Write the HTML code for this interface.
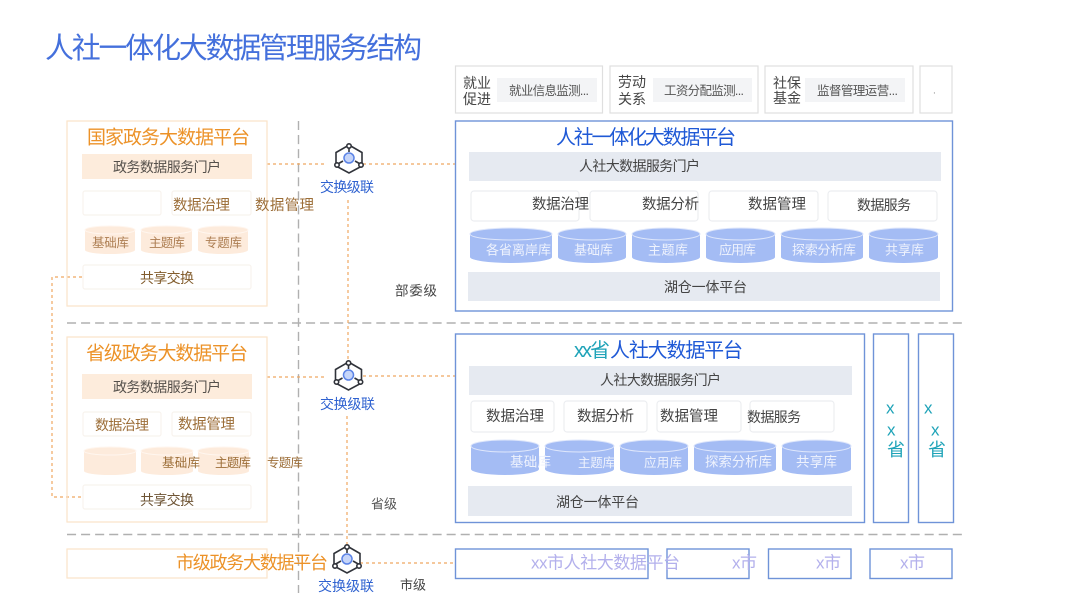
<!DOCTYPE html>
<html lang="zh"><head><meta charset="utf-8"><title>人社一体化大数据管理服务结构</title>
<style>
html,body{margin:0;padding:0;background:#fff;width:1080px;height:608px;overflow:hidden}
svg{display:block;filter:blur(.35px)}
text{font-family:"Liberation Sans","Noto Sans CJK SC",sans-serif;dominant-baseline:central;transform:translateY(1px)}
.o{fill:none;stroke:#fbe3c8;stroke-width:1.2}
.ob{fill:#fff;stroke:#f8f3ee;stroke-width:1.2}
.oband{fill:#fdecdc}
.oc{fill:#fdebdc}
.ot{fill:none;stroke:#fff6ef;stroke-width:1}
.b{fill:none;stroke:#6f93d8;stroke-width:1.4}
.bb{fill:#fff;stroke:#eceef1;stroke-width:1.2}
.g{fill:#e6eaf1}
.c{fill:#a4bcf4}
.ct{fill:#a4bcf4;stroke:#dfe7fb;stroke-width:1}
.tb{fill:#fff;stroke:#dfdfdf;stroke-width:1.2}
.gb{fill:#f3f4f6}
.dash{stroke:#b0b0b0;stroke-width:1.4;stroke-dasharray:9.06 5;fill:none}
.od{stroke:#efa862;stroke-width:1.2;stroke-dasharray:3 3;fill:none}
.ic{fill:none;stroke:#30333a;stroke-width:1.6}
.icd{fill:#fff;stroke:#30333a;stroke-width:1.6}
.icc{fill:#c6d5f9;stroke:#5b83e6;stroke-width:1.5}
</style></head><body>
<svg width="1080" height="608" viewBox="0 0 1080 608" xmlns="http://www.w3.org/2000/svg">
<text x="45" y="48" font-size="29" fill="#4470dc" textLength="377">人社一体化大数据管理服务结构</text>

<!-- dividers -->
<path class="dash" d="M67 323H962M67 534.500H962M298.500 121V593"/>

<!-- connectors -->
<path class="od" d="M267 164H327M363 164H455M348 200V360M267 377H327M363 376H455M347 416V545M360 563H455M82 277H52V497H82"/>

<!-- national -->
<rect class="o" x="67" y="121" width="200" height="185"/>
<text x="87" y="137" font-size="19" fill="#ec9228" textLength="163">国家政务大数据平台</text>
<rect class="oband" x="82" y="154" width="170" height="25"/>
<text x="113" y="166" font-size="14" fill="#55504b" textLength="108">政务数据服务门户</text>
<rect class="ob" x="83" y="191" width="78" height="24" rx="2"/>
<rect class="ob" x="172" y="191" width="79" height="24" rx="2"/>
<text x="173" y="205" font-size="14.500" fill="#9c6e38" textLength="57">数据治理</text>
<text x="255" y="205" font-size="14.500" fill="#9c6e38" textLength="59">数据管理</text>
<path class="oc" d="M85 230A25 4 0 0 1 135 230V250A25 4 0 0 1 85 250Z"/><ellipse class="ot" cx="110" cy="230" rx="25" ry="4"/>
<path class="oc" d="M141 230A25.500 4 0 0 1 192 230V250A25.500 4 0 0 1 141 250Z"/><ellipse class="ot" cx="166.500" cy="230" rx="25.500" ry="4"/>
<path class="oc" d="M198 230A25 4 0 0 1 248 230V250A25 4 0 0 1 198 250Z"/><ellipse class="ot" cx="223" cy="230" rx="25" ry="4"/>
<text x="92" y="242" font-size="12.500" fill="#ad7e52" textLength="37">基础库</text>
<text x="149" y="242" font-size="12.500" fill="#ad7e52" textLength="36">主题库</text>
<text x="205" y="242" font-size="12.500" fill="#ad7e52" textLength="37">专题库</text>
<rect class="ob" x="83" y="265" width="168" height="24" rx="2"/>
<text x="140" y="277" font-size="14" fill="#825c2c" textLength="54">共享交换</text>

<!-- province left -->
<rect class="o" x="67" y="337" width="200" height="185"/>
<text x="86" y="353" font-size="19" fill="#ec9228" textLength="162">省级政务大数据平台</text>
<rect class="oband" x="82" y="374" width="170" height="25"/>
<text x="113" y="386" font-size="14" fill="#55504b" textLength="108">政务数据服务门户</text>
<rect class="ob" x="83" y="412" width="78" height="24" rx="2"/>
<rect class="ob" x="172" y="412" width="79" height="24" rx="2"/>
<text x="95" y="424" font-size="14" fill="#9c6e38" textLength="54">数据治理</text>
<text x="178" y="424" font-size="14.500" fill="#9c6e38" textLength="57">数据管理</text>
<path class="oc" d="M84 451A26 4 0 0 1 136 451V471A26 4 0 0 1 84 471Z"/><ellipse class="ot" cx="110" cy="451" rx="26" ry="4"/>
<path class="oc" d="M141 451A26 4 0 0 1 193 451V471A26 4 0 0 1 141 471Z"/><ellipse class="ot" cx="167" cy="451" rx="26" ry="4"/>
<path class="oc" d="M198 451A25.500 4 0 0 1 249 451V471A25.500 4 0 0 1 198 471Z"/><ellipse class="ot" cx="223.500" cy="451" rx="25.500" ry="4"/>
<text x="162" y="462" font-size="12.500" fill="#9c6e38" textLength="38">基础库</text>
<text x="215" y="462" font-size="12.500" fill="#9c6e38" textLength="36">主题库</text>
<text x="267" y="462" font-size="12.500" fill="#9c6e38" textLength="36">专题库</text>
<rect class="ob" x="83" y="485" width="168" height="24" rx="2"/>
<text x="140" y="499" font-size="14" fill="#6e5434" textLength="54">共享交换</text>

<!-- city left -->
<rect class="o" x="67" y="549" width="200" height="29"/>
<text x="176" y="562" font-size="18" fill="#ec9228" textLength="152">市级政务大数据平台</text>

<!-- icons -->
<g>
<path class="ic" d="M349 145L362 152.500V166L349 173L336 166V152.500Z"/>
<path class="ic" d="M349 145V152M336 165L343 161M362 165L355 161"/>
<circle class="icc" cx="349" cy="158" r="5"/>
<circle class="icd" cx="349" cy="146" r="2.200"/><circle class="icd" cx="337" cy="165" r="2.200"/><circle class="icd" cx="361" cy="165" r="2.200"/>
</g>
<g>
<path class="ic" d="M348.500 362L361.500 369.500V383L348.500 390L335.500 383V369.500Z"/>
<path class="ic" d="M348.500 362V369M335.500 382L342.500 378M361.500 382L354.500 378"/>
<circle class="icc" cx="348.500" cy="375" r="5"/>
<circle class="icd" cx="348.500" cy="363" r="2.200"/><circle class="icd" cx="336.500" cy="382" r="2.200"/><circle class="icd" cx="360.500" cy="382" r="2.200"/>
</g>
<g>
<path class="ic" d="M347 546L360 553.500V566L347 573L334 566V553.500Z"/>
<path class="ic" d="M347 546V553M334 565L341 561M360 565L353 561"/>
<circle class="icc" cx="347" cy="559" r="5"/>
<circle class="icd" cx="347" cy="547" r="2.200"/><circle class="icd" cx="335" cy="566" r="2.200"/><circle class="icd" cx="359" cy="566" r="2.200"/>
</g>
<text x="320" y="186" font-size="14" fill="#2f62d0" textLength="54">交换级联</text>
<text x="320" y="403" font-size="14" fill="#2f62d0" textLength="55">交换级联</text>
<text x="318" y="585" font-size="14" fill="#2f62d0" textLength="56">交换级联</text>
<text x="395" y="290" font-size="13.500" fill="#444" textLength="42">部委级</text>
<text x="371" y="503" font-size="13" fill="#555" textLength="26">省级</text>
<text x="400" y="584" font-size="13" fill="#444" textLength="26">市级</text>

<!-- top row -->
<rect class="tb" x="455.500" y="66" width="147" height="47"/>
<rect class="tb" x="610" y="66" width="148" height="47"/>
<rect class="tb" x="765" y="66" width="148" height="47"/>
<rect class="tb" x="920" y="66" width="32" height="47"/>
<rect class="gb" x="497" y="78" width="100" height="24"/>
<rect class="gb" x="653" y="78" width="99" height="24"/>
<rect class="gb" x="805" y="78" width="100" height="24"/>
<text x="463" y="82" font-size="14" fill="#444" textLength="28">就业</text>
<text x="463" y="98" font-size="14" fill="#444" textLength="28">促进</text>
<text x="618" y="81" font-size="14" fill="#444" textLength="28">劳动</text>
<text x="618" y="98" font-size="14" fill="#444" textLength="28">关系</text>
<text x="773" y="82" font-size="14" fill="#444" textLength="28">社保</text>
<text x="773" y="97" font-size="14" fill="#444" textLength="28">基金</text>
<text x="509" y="90" font-size="12.500" fill="#555" textLength="80">就业信息监测...</text>
<text x="664" y="90" font-size="12.500" fill="#555" textLength="80">工资分配监测...</text>
<text x="817" y="90" font-size="12.500" fill="#555" textLength="81">监督管理运营...</text>
<text x="933" y="90" font-size="10" fill="#888">.</text>

<!-- national main -->
<rect class="b" x="455.500" y="121" width="497" height="190"/>
<text x="556" y="137" font-size="20" fill="#1f59d6" textLength="180">人社一体化大数据平台</text>
<rect class="g" x="469" y="152" width="472" height="29"/>
<text x="579" y="165" font-size="14" fill="#444" textLength="121">人社大数据服务门户</text>
<rect class="bb" x="471" y="191" width="108" height="30" rx="3"/>
<rect class="bb" x="590" y="191" width="108" height="30" rx="3"/>
<rect class="bb" x="709" y="191" width="109" height="30" rx="3"/>
<rect class="bb" x="828" y="191" width="109" height="30" rx="3"/>
<text x="532" y="204" font-size="14.500" fill="#444" textLength="57">数据治理</text>
<text x="642" y="204" font-size="14.500" fill="#444" textLength="57">数据分析</text>
<text x="748" y="204" font-size="14.500" fill="#444" textLength="58">数据管理</text>
<text x="857" y="204" font-size="14" fill="#444" textLength="54">数据服务</text>
<path class="c" d="M470 234A41 6 0 0 1 552 234V257A41 6 0 0 1 470 257Z"/><ellipse class="ct" cx="511" cy="234" rx="41" ry="6"/>
<path class="c" d="M558 234A34 6 0 0 1 626 234V257A34 6 0 0 1 558 257Z"/><ellipse class="ct" cx="592" cy="234" rx="34" ry="6"/>
<path class="c" d="M632 234A34 6 0 0 1 700 234V257A34 6 0 0 1 632 257Z"/><ellipse class="ct" cx="666" cy="234" rx="34" ry="6"/>
<path class="c" d="M706 234A34.500 6 0 0 1 775 234V257A34.500 6 0 0 1 706 257Z"/><ellipse class="ct" cx="740.500" cy="234" rx="34.500" ry="6"/>
<path class="c" d="M781 234A41 6 0 0 1 863 234V257A41 6 0 0 1 781 257Z"/><ellipse class="ct" cx="822" cy="234" rx="41" ry="6"/>
<path class="c" d="M869 234A34.500 6 0 0 1 938 234V257A34.500 6 0 0 1 869 257Z"/><ellipse class="ct" cx="903.500" cy="234" rx="34.500" ry="6"/>
<text x="486" y="249" font-size="13" fill="#eef2fd" textLength="65">各省离岸库</text>
<text x="574" y="249" font-size="13" fill="#eef2fd" textLength="39">基础库</text>
<text x="648" y="249" font-size="13" fill="#eef2fd" textLength="40">主题库</text>
<text x="719" y="249" font-size="13" fill="#eef2fd" textLength="37">应用库</text>
<text x="792" y="249" font-size="13" fill="#eef2fd" textLength="64">探索分析库</text>
<text x="885" y="249" font-size="13" fill="#eef2fd" textLength="39">共享库</text>
<rect class="g" x="468" y="272" width="472" height="29"/>
<text x="664" y="286" font-size="14" fill="#444" textLength="83">湖仓一体平台</text>

<!-- province main -->
<rect class="b" x="455.500" y="334" width="409" height="188.500"/>
<text x="574" y="350" font-size="20" fill="#1fa3b8" textLength="36">xx省</text>
<text x="610" y="350" font-size="20" fill="#1f59d6" textLength="133">人社大数据平台</text>
<rect class="g" x="469" y="366" width="383" height="29"/>
<text x="600" y="379" font-size="14" fill="#444" textLength="121">人社大数据服务门户</text>
<rect class="bb" x="471" y="401" width="83" height="31" rx="3"/>
<rect class="bb" x="564" y="401" width="83" height="31" rx="3"/>
<rect class="bb" x="657" y="401" width="84" height="31" rx="3"/>
<rect class="bb" x="750" y="401" width="84" height="31" rx="3"/>
<text x="486" y="416" font-size="14.500" fill="#444" textLength="58">数据治理</text>
<text x="577" y="416" font-size="14.500" fill="#444" textLength="57">数据分析</text>
<text x="660" y="416" font-size="14.500" fill="#444" textLength="58">数据管理</text>
<text x="747" y="416" font-size="14" fill="#444" textLength="54">数据服务</text>
<path class="c" d="M471 446A34 6 0 0 1 539 446V469A34 6 0 0 1 471 469Z"/><ellipse class="ct" cx="505" cy="446" rx="34" ry="6"/>
<path class="c" d="M545 446A34.500 6 0 0 1 614 446V469A34.500 6 0 0 1 545 469Z"/><ellipse class="ct" cx="579.500" cy="446" rx="34.500" ry="6"/>
<path class="c" d="M620 446A34 6 0 0 1 688 446V469A34 6 0 0 1 620 469Z"/><ellipse class="ct" cx="654" cy="446" rx="34" ry="6"/>
<path class="c" d="M694 446A41 6 0 0 1 776 446V469A41 6 0 0 1 694 469Z"/><ellipse class="ct" cx="735" cy="446" rx="41" ry="6"/>
<path class="c" d="M782 446A34.500 6 0 0 1 851 446V469A34.500 6 0 0 1 782 469Z"/><ellipse class="ct" cx="816.500" cy="446" rx="34.500" ry="6"/>
<text x="510" y="461" font-size="13.500" fill="#eef2fd" textLength="41">基础库</text>
<text x="578" y="462" font-size="12.500" fill="#eef2fd" textLength="37">主题库</text>
<text x="644" y="462" font-size="12.500" fill="#eef2fd" textLength="38">应用库</text>
<text x="705" y="461" font-size="13.500" fill="#eef2fd" textLength="67">探索分析库</text>
<text x="796" y="461" font-size="13.500" fill="#eef2fd" textLength="41">共享库</text>
<rect class="g" x="468" y="486" width="384" height="30"/>
<text x="556" y="501" font-size="14" fill="#444" textLength="83">湖仓一体平台</text>

<!-- side provinces -->
<rect class="b" x="873.500" y="334" width="35" height="188.500"/>
<rect class="b" x="918.500" y="334" width="35" height="188.500"/>
<text x="886" y="407" font-size="17" fill="#1fa3b8">x</text>
<text x="887" y="429" font-size="17" fill="#1fa3b8">x</text>
<text x="887" y="449" font-size="18" fill="#1fa3b8">省</text>
<text x="924" y="407" font-size="17" fill="#1fa3b8">x</text>
<text x="931" y="429" font-size="17" fill="#1fa3b8">x</text>
<text x="928" y="449" font-size="18" fill="#1fa3b8">省</text>

<!-- city main -->
<rect class="b" x="455.500" y="549" width="192.500" height="29.500"/>
<rect class="b" x="667" y="549" width="82" height="29.500"/>
<rect class="b" x="768.500" y="549" width="82.500" height="29.500"/>
<rect class="b" x="870" y="549" width="82" height="29.500"/>
<text x="531" y="562" font-size="17" fill="#b3b0ec" textLength="149">xx市人社大数据平台</text>
<text x="732" y="562" font-size="17" fill="#b3b0ec" textLength="25">x市</text>
<text x="816" y="562" font-size="17" fill="#b3b0ec" textLength="25">x市</text>
<text x="900" y="562" font-size="17" fill="#b3b0ec" textLength="25">x市</text>
</svg>
</body></html>
